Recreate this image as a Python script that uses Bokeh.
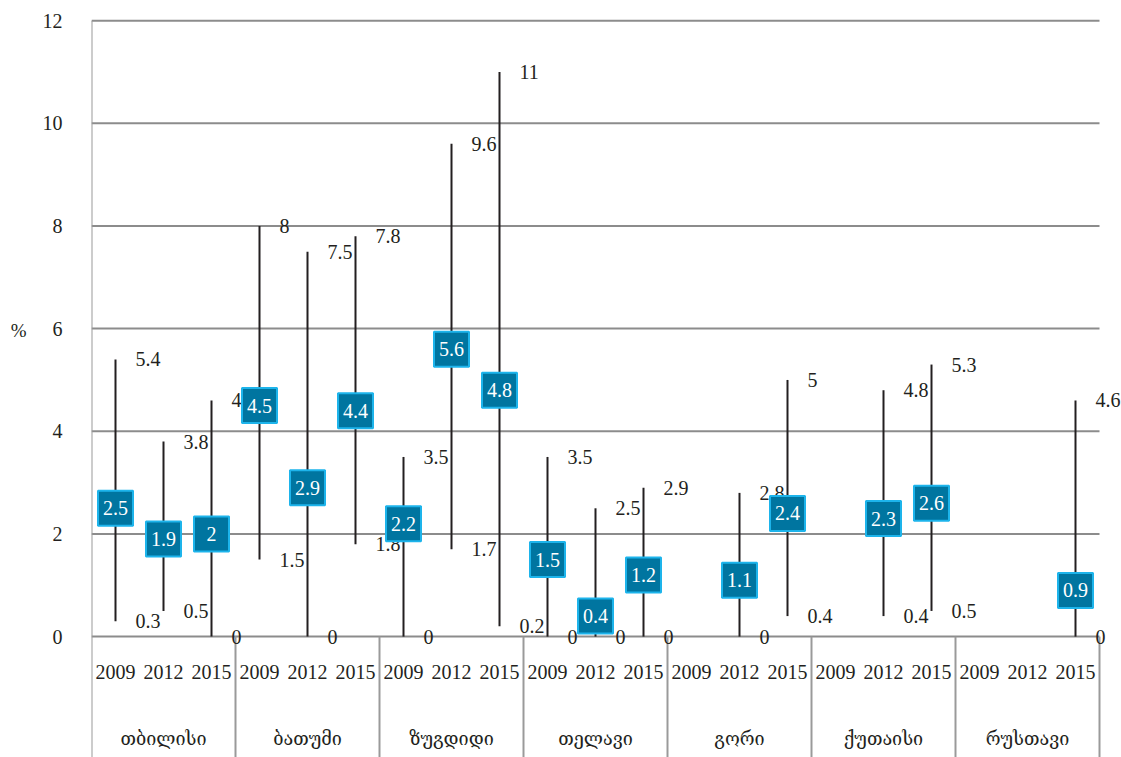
from bokeh.plotting import figure
from bokeh.models import ColumnDataSource, Range1d, FixedTicker
from bokeh.core.properties import value
from bokeh.embed import file_html
from bokeh.resources import INLINE

cities = ["თბილისი", "ბათუმი", "ზუგდიდი", "თელავი", "გორი", "ქუთაისი", "რუსთავი"]
years = ["2009", "2012", "2015"]
N = None
high = [5.4, 3.8, 4.6,  8.0, 7.5, 7.8,  3.5, 9.6, 11.0,  3.5, 2.5, 2.9,  N, 2.8, 5.0,  N, 4.8, 5.3,  N, N, 4.6]
low = [0.3, 0.5, 0.0,  1.5, 0.0, 1.8,  0.0, 1.7, 0.2,  0.0, 0.0, 0.0,  N, 0.0, 0.4,  N, 0.4, 0.5,  N, N, 0.0]
mean = [2.5, 1.9, 2.0,  4.5, 2.9, 4.4,  2.2, 5.6, 4.8,  1.5, 0.4, 1.2,  N, 1.1, 2.4,  N, 2.3, 2.6,  N, N, 0.9]
y_ticks = [0, 2, 4, 6, 8, 10, 12]
y_title = "%"

SERIF = "Liberation Serif"
GEO = "DejaVu Serif"
INK = "#231F20"

n = len(cities) * len(years)
Y0 = -2.355
p = figure(width=1121, height=757, output_backend="svg", toolbar_location=None,
           x_range=Range1d(0, 1030 / 48), y_range=Range1d(Y0, 12.1),
           min_border_left=91, min_border_right=0, min_border_top=15, min_border_bottom=0)
p.outline_line_color = None
p.xaxis.visible = False
p.xgrid.visible = False
p.ygrid.visible = False
p.yaxis.ticker = FixedTicker(ticks=y_ticks)
p.yaxis.axis_line_color = None
p.yaxis.major_tick_line_color = None
p.yaxis.minor_tick_line_color = None
p.yaxis.major_label_standoff = 23
p.yaxis.major_label_text_font = SERIF
p.yaxis.major_label_text_font_size = "20px"
p.yaxis.major_label_text_color = INK
p.yaxis.axis_label = y_title + "\n\n\n\n\n"
p.yaxis.axis_label_orientation = "horizontal"
p.yaxis.axis_label_standoff = 13
p.yaxis.axis_label_text_font = SERIF
p.yaxis.axis_label_text_font_size = "19px"
p.yaxis.axis_label_text_font_style = "normal"
p.yaxis.axis_label_text_line_height = 1.07
p.yaxis.axis_label_text_color = INK

# gridlines
p.segment(x0=[0] * len(y_ticks), x1=[n] * len(y_ticks), y0=y_ticks, y1=y_ticks,
          line_color="#8C8C8C", line_width=2)

# group separators
bounds = [i * len(years) for i in range(len(cities) + 1)]
p.segment(x0=bounds, x1=bounds, y0=[Y0] * len(bounds),
          y1=[12 if b == 0 else 0 for b in bounds], line_color="#9A9A9A", line_width=2)

# category labels
xs_all = [i + 0.5 for i in range(n)]
yr_labels = [years[i % len(years)] for i in range(n)]
p.text(x=xs_all, y=[-0.68] * n, text=yr_labels, text_font=value(SERIF), text_font_size="20px",
       text_align="center", text_baseline="middle", text_color=INK)
city_x = [i * len(years) + len(years) / 2 for i in range(len(cities))]
p.text(x=city_x, y=[-1.98] * len(cities), text=cities, text_font=value(GEO), text_font_size="18px",
       text_align="center", text_baseline="middle", text_color=INK)

idx = [i for i in range(n) if mean[i] is not None]
src = ColumnDataSource(dict(
    x=[i + 0.5 for i in idx],
    hi=[high[i] for i in idx],
    lo=[low[i] for i in idx],
    m=[mean[i] for i in idx],
    hi_t=[("%g" % high[i]) for i in idx],
    lo_t=[("%g" % low[i]) for i in idx],
    m_t=[("%g" % mean[i]) for i in idx],
))

p.segment(x0="x", x1="x", y0="lo", y1="hi", source=src, line_color=INK, line_width=2)
p.text(x="x", y="hi", text="hi_t", source=src, x_offset=20, text_font=value(SERIF),
       text_font_size="20px", text_align="left", text_baseline="middle", text_color=INK)
p.text(x="x", y="lo", text="lo_t", source=src, x_offset=20, text_font=value(SERIF),
       text_font_size="20px", text_align="left", text_baseline="middle", text_color=INK)
p.scatter(x="x", y="m", source=src, marker="square", size=35, fill_color="#0075A0",
          line_color="#1DB4EB", line_width=2)
p.text(x="x", y="m", text="m_t", source=src, text_font=value(SERIF), text_font_size="20px",
       text_align="center", text_baseline="middle", text_color="white")

open("out.html", "w").write(file_html(p, INLINE))
